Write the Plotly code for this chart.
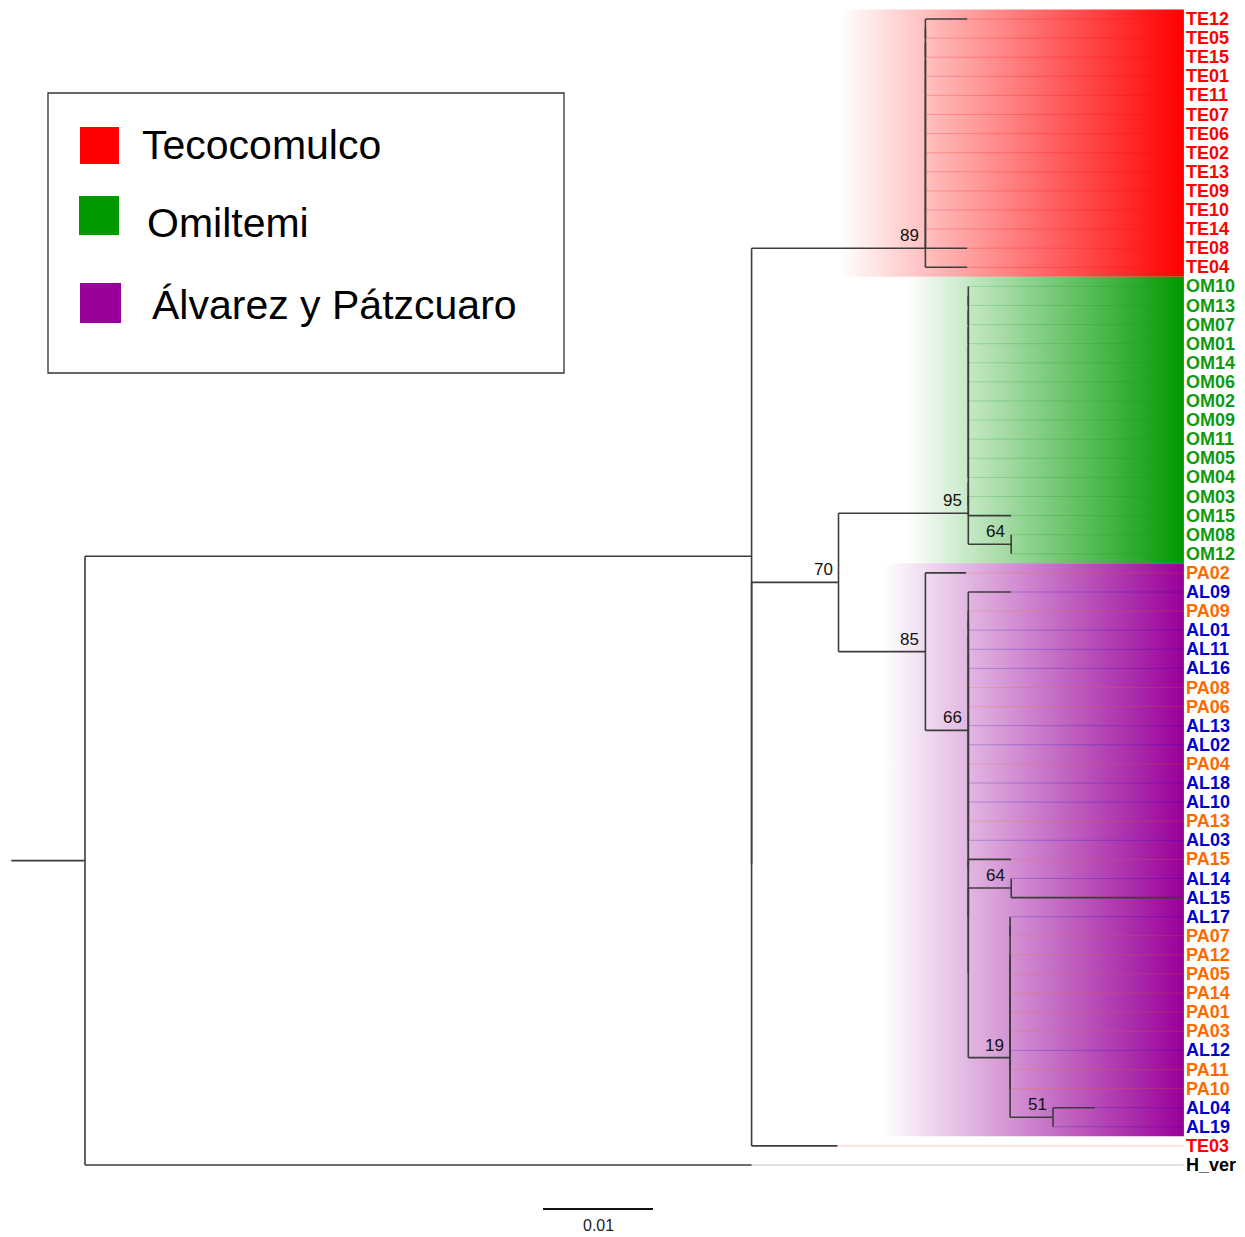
import plotly.graph_objects as go

# ---------------- data ----------------
TE_TIPS = ["TE12", "TE05", "TE15", "TE01", "TE11", "TE07", "TE06", "TE02",
           "TE13", "TE09", "TE10", "TE14", "TE08", "TE04"]
OM_TIPS = ["OM10", "OM13", "OM07", "OM01", "OM14", "OM06", "OM02", "OM09",
           "OM11", "OM05", "OM04", "OM03", "OM15", "OM08", "OM12"]
AP_TIPS = ["PA02", "AL09", "PA09", "AL01", "AL11", "AL16", "PA08", "PA06",
           "AL13", "AL02", "PA04", "AL18", "AL10", "PA13", "AL03", "PA15",
           "AL14", "AL15", "AL17", "PA07", "PA12", "PA05", "PA14", "PA01",
           "PA03", "AL12", "PA11", "PA10", "AL04", "AL19"]
OTHER_TIPS = ["TE03", "H_ver"]

# terminal branch lengths (substitutions/site); unlisted tips are 0
TIP_LENGTHS = {
    "TE12": 0.0038, "TE08": 0.0038, "TE04": 0.0038,
    "OM15": 0.0039,
    "PA02": 0.0037, "AL09": 0.0039, "PA15": 0.0039, "AL15": 0.0156,
    "AL04": 0.0038,
    "TE03": 0.0078, "H_ver": 0.0606,
}

# internal branch lengths and bootstrap support
STEM = 0.0067
INGROUP_LEN = 0.0606
CLADE_INFO = {            # name: (branch length, bootstrap)
    "te": (0.0158, 89),
    "om": (0.0118, 95),
    "om_sub": (0.0039, 64),
    "n70": (0.0079, 70),
    "n85": (0.0079, 85),
    "n66": (0.0039, 66),
    "al_sub": (0.0039, 64),
    "n19": (0.0038, 19),
    "n51": (0.0039, 51),
}

GROUPS = ["Tecocomulco", "Omiltemi", "Álvarez y Pátzcuaro"]
GROUP_RGB = [(255, 0, 0), (0, 153, 0), (153, 0, 153)]
GROUP_FADE_START = [0.0686, 0.0747, 0.0725]
LABEL_X = 0.0999
SCALE_LEN = 0.01

PREFIX_COLOR = {"TE": "#ff0000", "OM": "#0f9a0f", "PA": "#ff6a00",
                "AL": "#0000cc", "H_": "#000000"}


# ---------------- tree ----------------
class Node:
    def __init__(self, name=None, children=None, length=0.0, support=None):
        self.name = name
        self.children = children or []
        self.length = length
        self.support = support


def tip(name):
    return Node(name=name, length=TIP_LENGTHS.get(name, 0.0))


def join(*kids, key=None):
    length, support = CLADE_INFO[key] if key else (0.0, None)
    return Node(children=list(kids), length=length, support=support)


def ladder(names):
    node = tip(names[0])
    for n in names[1:]:
        node = join(node, tip(n))
    return node


def tagged(node, key):
    node.length, node.support = CLADE_INFO[key]
    return node


te = tagged(ladder(TE_TIPS), "te")
om_sub = join(tip("OM08"), tip("OM12"), key="om_sub")
om = join(join(ladder(OM_TIPS[:11]), join(tip("OM03"), tip("OM15"))),
          om_sub, key="om")
n51 = join(tip("AL04"), tip("AL19"), key="n51")
n19 = join(join(join(tip("AL17"), tip("PA07")), ladder(AP_TIPS[20:28])),
           n51, key="n19")
al_sub = join(tip("AL14"), tip("AL15"), key="al_sub")
n66 = join(tip("AL09"),
           join(ladder(AP_TIPS[2:15]), join(tip("PA15"), join(al_sub, n19))),
           key="n66")
n85 = join(tip("PA02"), n66, key="n85")
n70 = join(om, n85, key="n70")
ingroup = join(te, join(n70, tip("TE03")))
ingroup.length = INGROUP_LEN
root = join(ingroup, tip("H_ver"))
root.length = STEM

tips = []
nodes = []


def place(node, x0):
    node.px = x0
    node.x = x0 + node.length
    nodes.append(node)
    if not node.children:
        node.y = len(tips)
        tips.append(node)
    else:
        for c in node.children:
            place(c, node.x)
        node.y = sum(c.y for c in node.children) / len(node.children)


place(root, -STEM)

# ---------------- figure ----------------
W, H = 1245, 1237
PX_PER_UNIT = 11000.0
X0_PX = 85.0
Y0_PX, ROW_PX = 19.0, 19.1

x_range = [-X0_PX / PX_PER_UNIT, (W - X0_PX) / PX_PER_UNIT]
y_range = [(H - Y0_PX) / ROW_PX, -Y0_PX / ROW_PX]

fig = go.Figure()

# gradient bands behind each population clade
spans = [(0, len(TE_TIPS) - 1),
         (len(TE_TIPS), len(TE_TIPS) + len(OM_TIPS) - 1),
         (len(TE_TIPS) + len(OM_TIPS),
          len(TE_TIPS) + len(OM_TIPS) + len(AP_TIPS) - 1)]
for (a, b), rgb, xs in zip(spans, GROUP_RGB, GROUP_FADE_START):
    r, g, bb = rgb
    y0, y1 = a - 0.5, b + 0.5
    fig.add_trace(go.Scatter(
        x=[xs, LABEL_X, LABEL_X, xs, xs], y=[y0, y0, y1, y1, y0],
        mode="lines", line=dict(width=0), fill="toself",
        fillgradient=dict(type="horizontal",
                          colorscale=[[0, f"rgba({r},{g},{bb},0)"],
                                      [1, f"rgba({r},{g},{bb},1)"]]),
        hoverinfo="skip", showlegend=False))

# faint leader lines from each tip to its label
lead = {}
for t in tips:
    col = PREFIX_COLOR[t.name[:2]]
    xs, ys = lead.setdefault(col, ([], []))
    xs += [t.x, LABEL_X, None]
    ys += [t.y, t.y, None]
for col, (xs, ys) in lead.items():
    fig.add_trace(go.Scatter(x=xs, y=ys, mode="lines",
                             line=dict(color=col, width=1),
                             opacity=0.22, hoverinfo="skip", showlegend=False))

# branches
bx, by = [], []
for n in nodes:
    bx += [n.px, n.x, None]
    by += [n.y, n.y, None]
    if n.children:
        ys = [c.y for c in n.children]
        bx += [n.x, n.x, None]
        by += [min(ys), max(ys), None]
fig.add_trace(go.Scatter(x=bx, y=by, mode="lines",
                         line=dict(color="#3c3c3c", width=1.6),
                         hoverinfo="skip", showlegend=False))

ann = []
# bootstrap values
for n in nodes:
    if n.support is not None:
        ann.append(dict(x=n.x, y=n.y, text=str(n.support), showarrow=False,
                        xanchor="right", yanchor="bottom", xshift=-4, yshift=1,
                        font=dict(family="Liberation Sans", size=17,
                                  color="#111111")))
# tip labels
for t in tips:
    ann.append(dict(x=LABEL_X, y=t.y, text=f"<b>{t.name}</b>", showarrow=False,
                    xanchor="left", yanchor="middle", xshift=0,
                    font=dict(family="Liberation Sans", size=18,
                              color=PREFIX_COLOR[t.name[:2]])))

# scale bar
sb_x0 = (543 - X0_PX) / PX_PER_UNIT
sb_y = (1209 - Y0_PX) / ROW_PX
fig.add_trace(go.Scatter(x=[sb_x0, sb_x0 + SCALE_LEN], y=[sb_y, sb_y],
                         mode="lines", line=dict(color="#111111", width=2.2),
                         hoverinfo="skip", showlegend=False))
ann.append(dict(x=sb_x0 + SCALE_LEN / 2, y=sb_y, text=f"{SCALE_LEN:g}",
                showarrow=False, yanchor="top", yshift=-6,
                font=dict(family="Liberation Sans", size=16, color="#222222")))

# legend box
shapes = [dict(type="rect", xref="paper", yref="paper",
               x0=48 / W, x1=564 / W, y0=1 - 373 / H, y1=1 - 93 / H,
               line=dict(color="#333333", width=1.3), fillcolor="white")]
sw = [(80, 119, 127, 164), (79, 119, 196, 235), (80, 121, 283, 323)]
tx = [(140, 145), (145, 223), (150, 305)]
for (x0, x1, y0, y1), rgb, (tx0, ty), label in zip(sw, GROUP_RGB, tx, GROUPS):
    shapes.append(dict(type="rect", xref="paper", yref="paper",
                       x0=x0 / W, x1=x1 / W, y0=1 - y1 / H, y1=1 - y0 / H,
                       line=dict(width=0), fillcolor="rgb(%d,%d,%d)" % rgb))
    ann.append(dict(xref="paper", yref="paper", x=tx0 / W, y=1 - ty / H,
                    text=label, showarrow=False, xanchor="left",
                    yanchor="middle",
                    font=dict(family="Liberation Sans", size=41, color="black")))

fig.update_layout(
    width=W, height=H, margin=dict(l=0, r=0, t=0, b=0),
    paper_bgcolor="white", plot_bgcolor="white",
    xaxis=dict(range=x_range, visible=False, fixedrange=True),
    yaxis=dict(range=y_range, visible=False, fixedrange=True),
    annotations=ann, shapes=shapes, showlegend=False,
)

fig.write_html("out.html")
